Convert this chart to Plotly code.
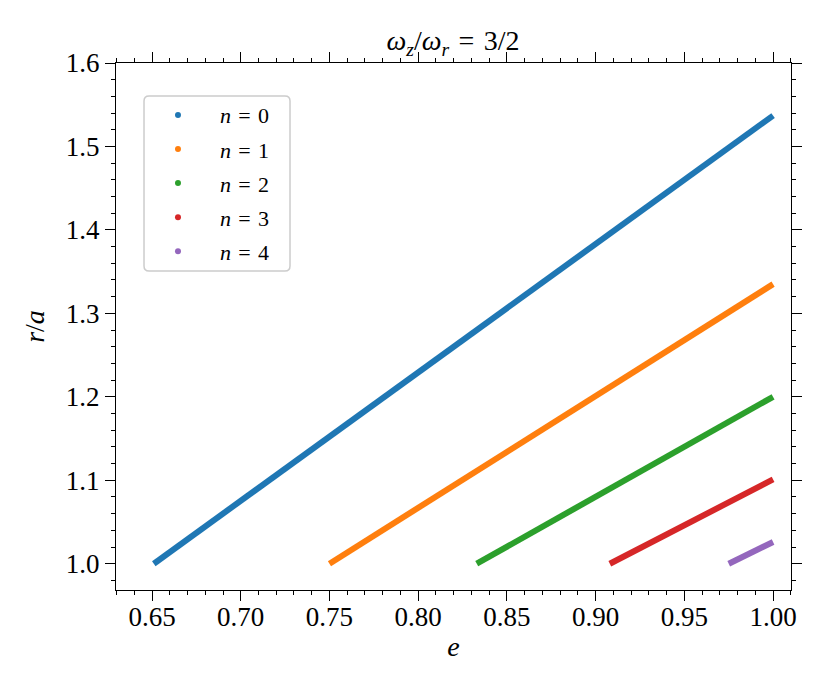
import plotly.graph_objects as go

# each branch is a straight segment from (e_start, 1.0) to (1.0, r_end)
n_labels = ["0", "1", "2", "3", "4"]
e_start = [0.651, 0.750, 0.833, 0.908, 0.975]
e_end = [1.0, 1.0, 1.0, 1.0, 1.0]
r_start = [1.0, 1.0, 1.0, 1.0, 1.0]
r_end = [1.537, 1.335, 1.200, 1.101, 1.026]
colors = ["#1f77b4", "#ff7f0e", "#2ca02c", "#d62728", "#9467bd"]

x_ticks = [0.65, 0.70, 0.75, 0.80, 0.85, 0.90, 0.95, 1.00]
y_ticks = [1.0, 1.1, 1.2, 1.3, 1.4, 1.5, 1.6]

FONT = "Liberation Serif"
SP = "\u2004"

fig = go.Figure()
for n, x0, x1, y0, y1, c in zip(n_labels, e_start, e_end, r_start, r_end, colors):
    fig.add_trace(go.Scatter(
        x=[x0, x1], y=[y0, y1],
        mode="lines",
        line=dict(color=c, width=6),
        showlegend=False,
        hoverinfo="skip",
    ))
    # legend entry drawn as a dot, like the reference
    fig.add_trace(go.Scatter(
        x=[None], y=[None],
        mode="markers",
        marker=dict(color=c, size=6),
        name=f"    <i>n</i>{SP}={SP}{n}",
        legendgroup=n,
    ))

axis_common = dict(
    showline=True, linecolor="black", linewidth=1.3,
    mirror="allticks", ticks="outside", ticklen=10, tickwidth=1.3,
    tickcolor="black", showgrid=False, zeroline=False,
    tickfont=dict(family=FONT, size=27, color="black"),
)

# rounded legend frame (matplotlib style), in plot-area coordinates
fx0, fx1, fy0, fy1 = 0.0415, 0.2578, 0.6053, 0.9374
rx, ry = 0.0075, 0.0095
frame_path = (
    f"M {fx0 + rx},{fy0} L {fx1 - rx},{fy0} Q {fx1},{fy0} {fx1},{fy0 + ry} "
    f"L {fx1},{fy1 - ry} Q {fx1},{fy1} {fx1 - rx},{fy1} "
    f"L {fx0 + rx},{fy1} Q {fx0},{fy1} {fx0},{fy1 - ry} "
    f"L {fx0},{fy0 + ry} Q {fx0},{fy0} {fx0 + rx},{fy0} Z"
)

# the page body adds an 8px offset, so margins are shifted to compensate
fig.update_layout(
    width=831, height=692,
    plot_bgcolor="white", paper_bgcolor="white",
    font=dict(family=FONT, size=24, color="black"),
    margin=dict(l=108, r=48, t=55, b=110),
    title=dict(
        text=f"<i>ω</i><sub><i>z</i></sub>/<i>ω</i><sub><i>r</i></sub>{SP}={SP}3/2",
        x=0.5355, xanchor="center", y=0.953, yanchor="middle",
        font=dict(family=FONT, size=28),
    ),
    xaxis=dict(
        range=[0.6297, 1.0101],
        tickvals=x_ticks,
        ticktext=[f"{v:.2f}" for v in x_ticks],
        minor=dict(dtick=0.01, tick0=0.6, ticks="outside", ticklen=4,
                   tickwidth=1.1, tickcolor="black"),
        ticklabelstandoff=-8,
        title=dict(text="<i>e</i>", font=dict(family=FONT, size=28), standoff=5),
        **axis_common,
    ),
    yaxis=dict(
        range=[0.9685, 1.6],
        tickvals=y_ticks,
        ticktext=[f"{v:.1f}" for v in y_ticks],
        minor=dict(dtick=0.02, tick0=1.0, ticks="outside", ticklen=4,
                   tickwidth=1.1, tickcolor="black"),
        title=dict(text="<i>r</i>/<i>a</i>", font=dict(family=FONT, size=28), standoff=12),
        **axis_common,
    ),
    shapes=[dict(
        type="path", path=frame_path, xref="x domain", yref="y domain",
        line=dict(color="#cccccc", width=1.5),
        fillcolor="rgba(255,255,255,0.8)", layer="above",
    )],
    legend=dict(
        x=0.0622, y=0.941, xanchor="left", yanchor="top",
        bgcolor="rgba(0,0,0,0)", borderwidth=0,
        font=dict(family=FONT, size=22),
        itemwidth=30, tracegroupgap=2.5,
    ),
)

fig.write_html("out.html")
